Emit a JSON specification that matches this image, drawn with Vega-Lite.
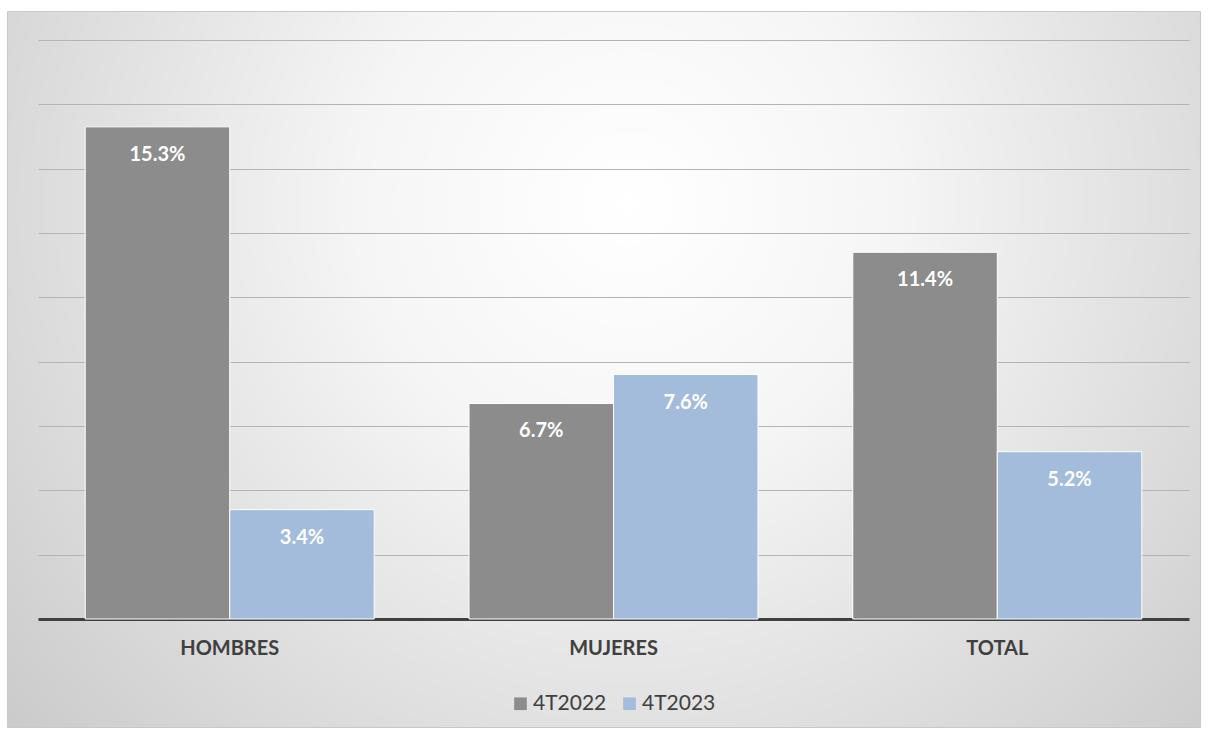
{
  "$schema": "https://vega.github.io/schema/vega-lite/v6.json",
  "autosize": "none",
  "width": 1193,
  "height": 716,
  "padding": {"left": 7, "top": 11, "right": 8, "bottom": 8},
  "background": "#ffffff",
  "config": {
    "font": "Lato",
    "view": {
      "stroke": "#c8c8c8",
      "strokeWidth": 1,
      "fill": {"gradient": "radial", "x1": 0.52, "y1": 0.36, "r1": 0, "x2": 0.52, "y2": 0.36, "r2": 0.75,
        "stops": [{"offset": 0, "color": "#ffffff"}, {"offset": 0.3, "color": "#f5f5f5"}, {"offset": 1, "color": "#c4c4c4"}]}
    }
  },
  "data": {
    "values": [
      {"grupo": "HOMBRES", "periodo": "4T2022", "valor": 0.153},
      {"grupo": "HOMBRES", "periodo": "4T2023", "valor": 0.034},
      {"grupo": "MUJERES", "periodo": "4T2022", "valor": 0.067},
      {"grupo": "MUJERES", "periodo": "4T2023", "valor": 0.076},
      {"grupo": "TOTAL", "periodo": "4T2022", "valor": 0.114},
      {"grupo": "TOTAL", "periodo": "4T2023", "valor": 0.052}
    ]
  },
  "encoding": {
    "x": {
      "field": "grupo", "type": "nominal", "sort": ["HOMBRES", "MUJERES", "TOTAL"],
      "scale": {"range": [31, 1182], "paddingInner": 0.247, "paddingOuter": 0.123},
      "axis": {"title": null, "orient": "bottom", "offset": -108, "ticks": false, "domainColor": "#404040", "domainWidth": 3,
        "labelFont": "Lato", "labelFontSize": 20, "labelFontWeight": "bold", "labelColor": "#404040", "labelPadding": 19, "labelAngle": 0}
    },
    "xOffset": {"field": "periodo", "type": "nominal", "scale": {"paddingInner": 0, "paddingOuter": 0}},
    "y": {
      "field": "valor", "type": "quantitative",
      "scale": {"domain": [0, 0.18], "range": [608, 29], "nice": false, "zero": true},
      "axis": {"title": null, "labels": false, "ticks": false, "domain": false, "values": [0.02, 0.04, 0.06, 0.08, 0.1, 0.12, 0.14, 0.16, 0.18],
        "gridColor": "#b4b4b4", "gridWidth": 1}
    }
  },
  "layer": [
    {
      "mark": {"type": "bar", "stroke": "#ffffff", "strokeWidth": 1},
      "encoding": {
        "color": {
          "field": "periodo", "type": "nominal",
          "scale": {"domain": ["4T2022", "4T2023"], "range": ["#8c8c8c", "#a3bcdb"]},
          "legend": {"title": null, "orient": "none", "direction": "horizontal", "legendX": 503, "legendY": 682,
            "symbolType": "square", "symbolSize": 160, "symbolStrokeWidth": 0, "labelFontSize": 21, "labelColor": "#404040",
            "labelFont": "Lato", "columnPadding": 12, "labelOffset": 2}
        }
      }
    },
    {
      "mark": {"type": "text", "baseline": "top", "dy": 18, "color": "#ffffff", "fontSize": 20, "fontWeight": "bold", "font": "Lato"},
      "encoding": {
        "text": {"field": "valor", "type": "quantitative", "format": ".1%"}
      }
    }
  ]
}
